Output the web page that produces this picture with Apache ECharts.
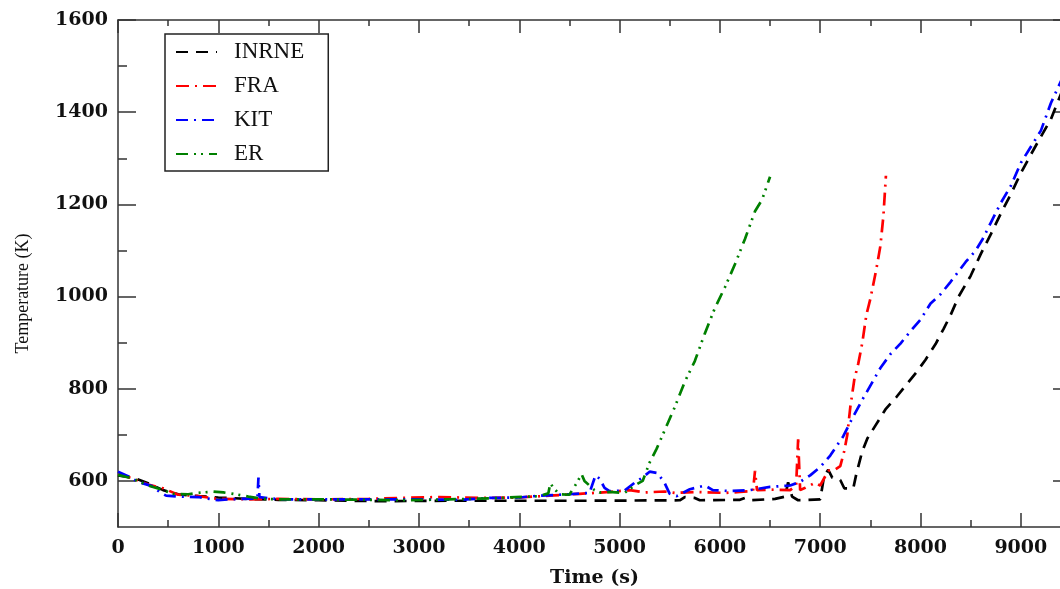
<!DOCTYPE html>
<html><head><meta charset="utf-8">
<script src="https://cdn.jsdelivr.net/npm/echarts@6/dist/echarts.min.js"></script>
<style>html,body{margin:0;padding:0;background:#fff}#c{width:1060px;height:589px}</style>
</head><body><div id="c"></div>
<script>
const seriesNames = ['INRNE', 'FRA', 'KIT', 'ER'];
const inrne = [[0,612],[150,607],[300,595],[450,580],[600,571],[800,567],[1000,564],[1300,561],[1600,559],[2000,558],[2600,556],[3300,557],[4000,557],[4700,557],[5600,558],[5650,565],[5750,563],[5800,558],[6200,559],[6250,563],[6300,558],[6550,561],[6650,566],[6680,597],[6720,566],[6780,558],[7000,560],[7040,612],[7080,624],[7120,607],[7200,602],[7240,584],[7330,584],[7360,615],[7420,665],[7470,692],[7550,720],[7650,755],[7760,782],[7860,809],[7960,836],[8050,863],[8150,897],[8230,930],[8300,960],[8380,1000],[8500,1045],[8600,1092],[8700,1135],[8800,1180],[8900,1222],[9000,1268],[9100,1308],[9200,1347],[9300,1385],[9410,1445]];
const fra = [[0,615],[150,605],[300,592],[450,584],[600,570],[800,567],[1000,561],[1300,560],[1600,561],[2000,560],[2500,561],[2800,563],[3200,565],[3600,563],[4000,564],[4300,568],[4600,572],[4900,576],[5100,580],[5250,575],[5450,577],[5550,574],[5750,576],[6050,574],[6200,576],[6330,578],[6350,622],[6370,580],[6500,581],[6700,580],[6760,590],[6780,690],[6800,580],[6850,585],[6950,596],[7000,590],[7080,622],[7150,625],[7200,632],[7240,665],[7270,700],[7300,760],[7340,820],[7380,855],[7420,900],[7460,960],[7500,995],[7560,1060],[7600,1110],[7630,1175],[7655,1262]];
const kit = [[0,620],[100,610],[200,598],[350,588],[420,575],[480,568],[600,566],[800,565],[1000,558],[1100,560],[1390,562],[1400,607],[1410,565],[1600,560],[2000,560],[2500,560],[3000,560],[3400,559],[3700,563],[4000,564],[4200,568],[4500,571],[4700,574],[4760,612],[4800,605],[4850,585],[4900,578],[5050,579],[5150,596],[5220,606],[5300,620],[5380,617],[5450,595],[5500,572],[5570,567],[5700,582],[5850,590],[5930,580],[6100,578],[6300,580],[6500,587],[6700,590],[6800,598],[6900,612],[7000,630],[7100,655],[7230,697],[7320,736],[7430,780],[7530,818],[7600,845],[7700,875],[7800,898],[7900,925],[8000,950],[8100,985],[8200,1005],[8300,1032],[8450,1075],[8550,1100],[8620,1125],[8700,1160],[8800,1203],[8900,1240],[9000,1290],[9100,1325],[9200,1360],[9300,1420],[9410,1472]];
const er = [[0,613],[150,605],[300,590],[450,580],[550,572],[700,571],[800,574],[950,577],[1050,575],[1150,572],[1300,566],[1450,561],[1600,560],[2000,560],[2500,559],[2900,558],[3300,560],[3700,562],[3900,564],[4200,567],[4290,573],[4310,595],[4340,585],[4400,571],[4500,570],[4580,598],[4620,615],[4650,600],[4700,590],[4750,580],[4800,575],[4900,576],[5050,574],[5150,590],[5230,600],[5300,640],[5370,670],[5450,710],[5550,760],[5650,815],[5750,860],[5850,920],[5950,975],[6050,1020],[6150,1070],[6250,1125],[6350,1185],[6420,1210],[6500,1260]];
const xMajorTicks = [0,1000,2000,3000,4000,5000,6000,7000,8000,9000];
const xMinorTicks = [500,1500,2500,3500,4500,5500,6500,7500,8500];
const yMajorTicks = [600,800,1000,1200,1400,1600];
const yMinorTicks = [700,900,1100,1300,1500];
const xTitle = 'Time (s)';
const yTitle = 'Temperature (K)';

const axisCol = '#333';
const gridRect = {left: 118, top: 20, width: 953, height: 507, outerBoundsMode: 'none', containLabel: false};
const xRange = {min: 0, max: 9500};
const yRange = {min: 500, max: 1600};
const labelFmt = v => String(v);
function xAx(grid, pos, ticks, len, labels, lineShow) {
  return Object.assign({type: 'value', gridIndex: grid, position: pos}, xRange, {
    splitLine: {show: false},
    axisLine: {show: lineShow, onZero: false, lineStyle: {color: axisCol, width: 1.5}},
    axisTick: {show: true, inside: true, length: len, customValues: ticks, lineStyle: {color: axisCol, width: 1.5}},
    axisLabel: labels ? {show: true, customValues: ticks, formatter: labelFmt, margin: 12, color: '#111', fontFamily: 'DejaVu Serif', fontWeight: 'bold', fontSize: 19} : {show: false}
  });
}
function yAx(grid, pos, ticks, len, labels, lineShow) {
  return Object.assign({type: 'value', gridIndex: grid, position: pos}, yRange, {
    splitLine: {show: false},
    axisLine: {show: lineShow, onZero: false, lineStyle: {color: axisCol, width: 1.5}},
    axisTick: {show: true, inside: true, length: len, customValues: ticks, lineStyle: {color: axisCol, width: 1.5}},
    axisLabel: labels ? {show: true, customValues: ticks, formatter: labelFmt, margin: 10, color: '#111', fontFamily: 'DejaVu Serif', fontWeight: 'bold', fontSize: 19} : {show: false}
  });
}
const xAxes = [
  xAx(0, 'bottom', xMajorTicks, 14, true, true),
  xAx(0, 'top', xMajorTicks, 13, false, true),
  xAx(1, 'bottom', xMinorTicks, 7, false, false),
  xAx(1, 'top', xMinorTicks, 6, false, false)
];
xAxes[0].name = xTitle;
xAxes[0].nameLocation = 'middle';
xAxes[0].nameGap = 42;
xAxes[0].nameTextStyle = {fontFamily: 'DejaVu Serif', fontWeight: 'bold', fontSize: 19, color: '#111'};
const yAxes = [
  yAx(0, 'left', yMajorTicks, 18, true, true),
  yAx(0, 'right', yMajorTicks, 18, false, true),
  yAx(1, 'left', yMinorTicks, 9, false, false),
  yAx(1, 'right', yMinorTicks, 9, false, false)
];
yAxes[0].name = yTitle;
yAxes[0].nameLocation = 'middle';
yAxes[0].nameGap = 86;
yAxes[0].nameTextStyle = {fontFamily: 'Liberation Serif', fontSize: 18, color: '#111', padding: [0, 40, 0, 0]};

const styles = [
  {color: '#000000', type: [12, 8]},
  {color: '#ff0000', type: [13, 6, 2, 6]},
  {color: '#0000ff', type: [12, 6, 2, 6]},
  {color: '#008000', type: [12, 6, 2, 5, 2, 6]}
];
const datas = [inrne, fra, kit, er];
const series = seriesNames.map((n, i) => ({
  name: n, type: 'line', xAxisIndex: 0, yAxisIndex: 0, data: datas[i],
  symbol: 'none', showSymbol: false, clip: true,
  lineStyle: {color: styles[i].color, width: 2.7, type: styles[i].type},
  itemStyle: {color: styles[i].color},
  emphasis: {disabled: true}
}));

const chart = echarts.init(document.getElementById('c'), null, {renderer: 'canvas'});
chart.setOption({
  animation: false,
  backgroundColor: '#fff',
  grid: [Object.assign({}, gridRect), Object.assign({}, gridRect)],
  xAxis: xAxes,
  yAxis: yAxes,
  legend: {
    data: seriesNames, orient: 'vertical', left: 165, top: 34,
    itemWidth: 41, itemHeight: 14, itemGap: 10,
    padding: [6, 24, 5, 10],
    borderColor: '#222', borderWidth: 1.5, backgroundColor: '#fff',
    itemStyle: {opacity: 0},
    textStyle: {fontFamily: 'Liberation Serif', fontSize: 23, color: '#111', lineHeight: 24, padding: [0, 0, 0, 12]}
  },
  series: series
});
</script></body></html>
